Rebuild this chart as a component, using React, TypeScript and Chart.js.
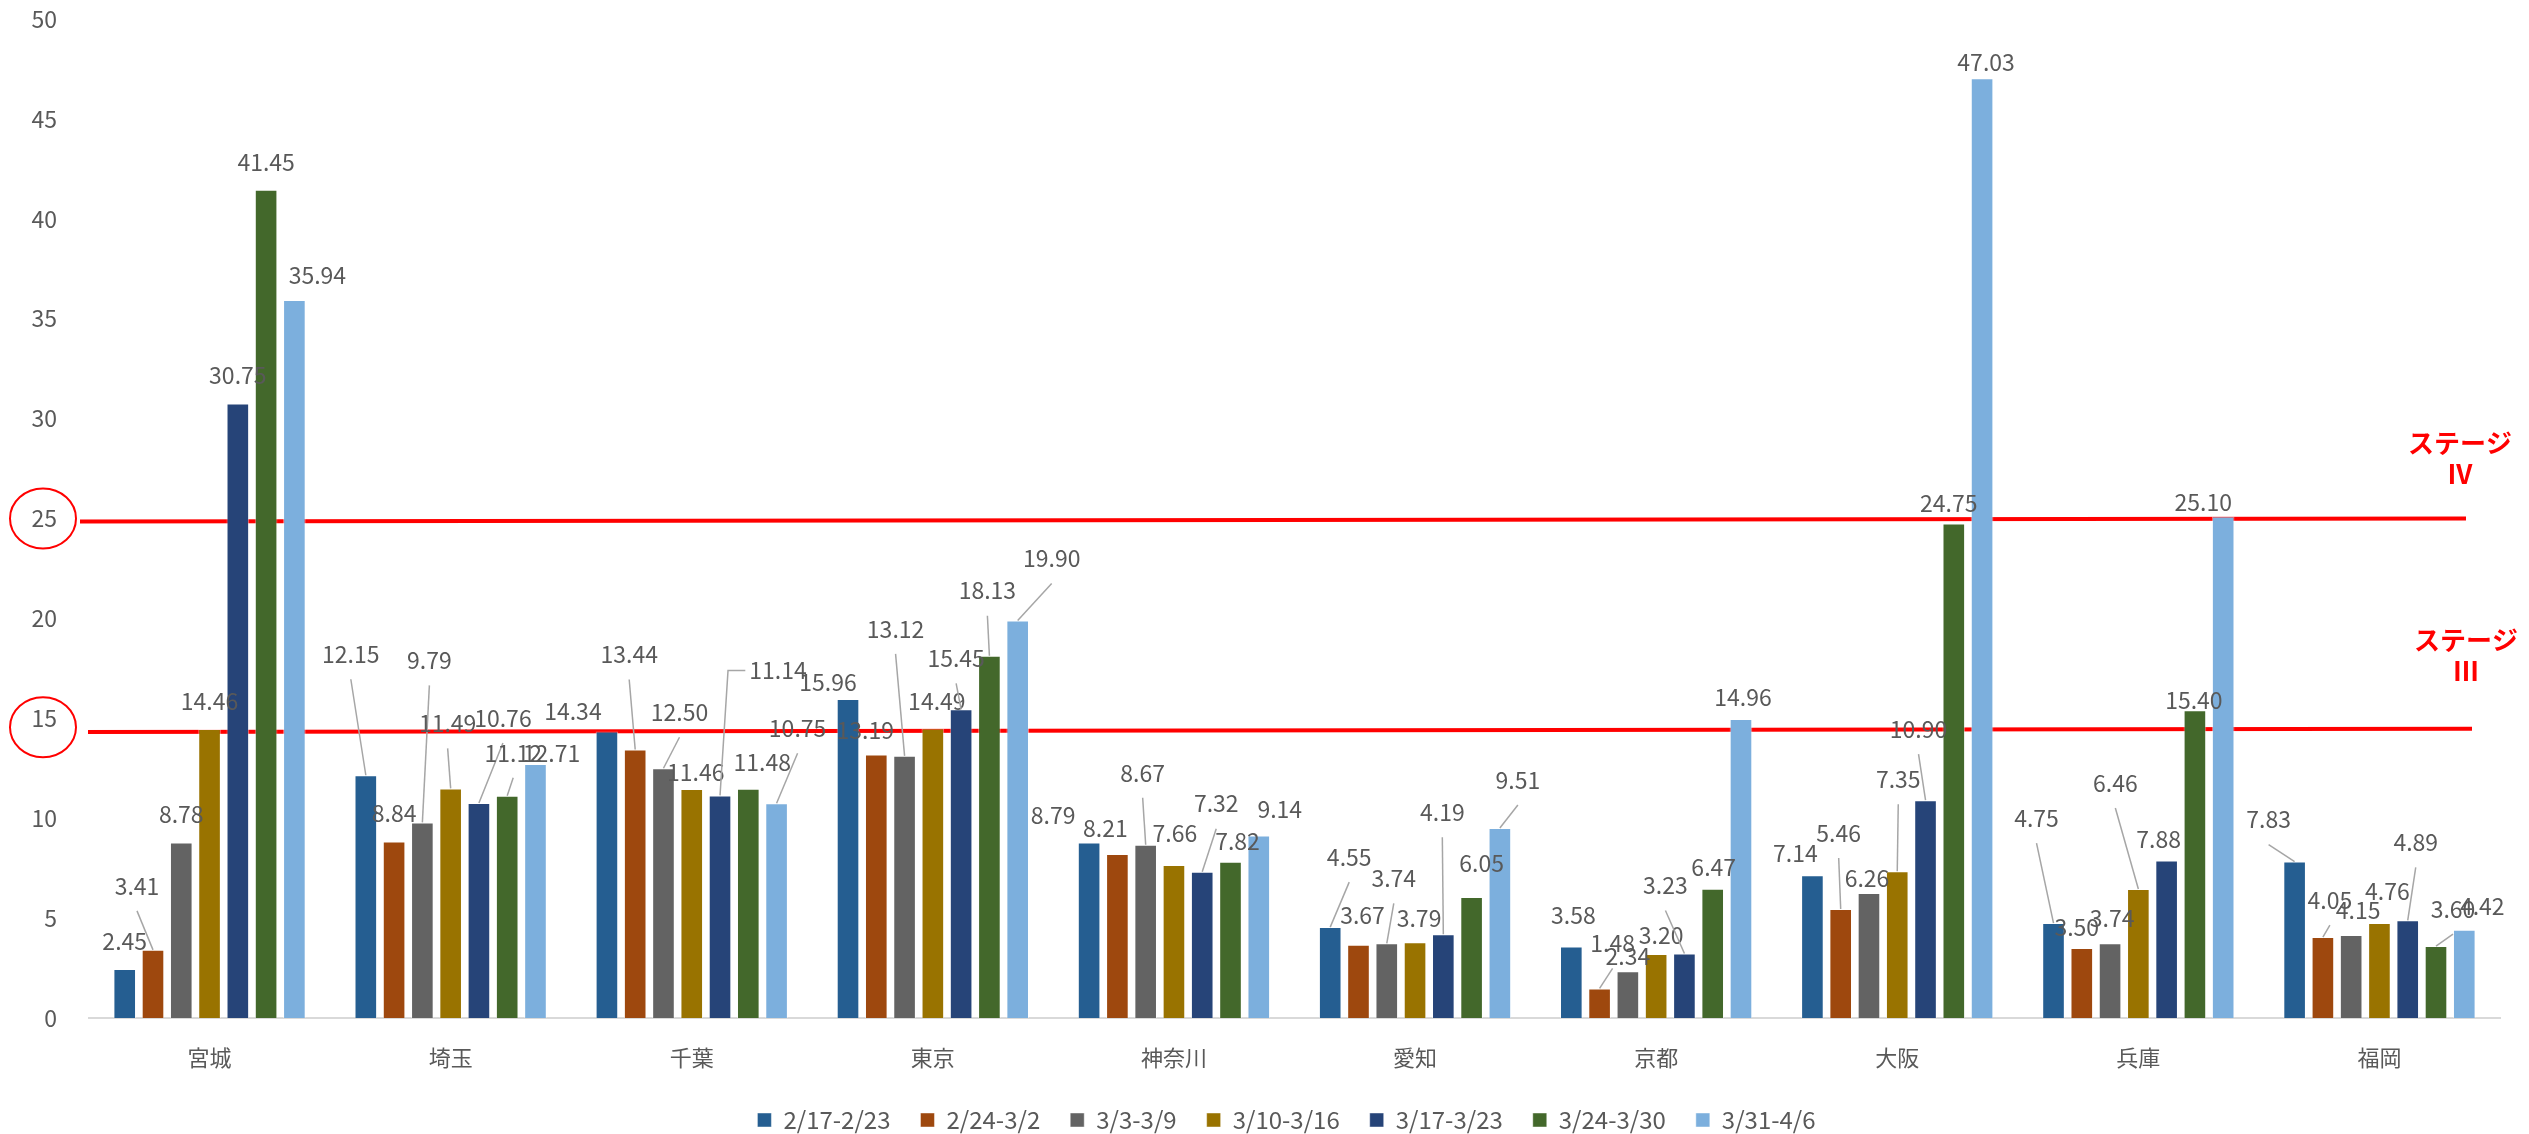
import React, { useEffect, useRef } from 'react';
import { Chart, registerables } from 'chart.js';

Chart.register(...registerables);

const FONT = '"Noto Sans CJK JP", "Noto Sans", sans-serif';

const CATEGORIES = ['宮城', '埼玉', '千葉', '東京', '神奈川', '愛知', '京都', '大阪', '兵庫', '福岡'];
const SERIES_LABELS = ['2/17-2/23', '2/24-3/2', '3/3-3/9', '3/10-3/16', '3/17-3/23', '3/24-3/30', '3/31-4/6'];
const SERIES_COLORS = ['#255E91', '#9E480E', '#636363', '#997300', '#264478', '#43682B', '#7CAFDD'];

const W_0217 = [2.45, 12.15, 14.34, 15.96, 8.79, 4.55, 3.58, 7.14, 4.75, 7.83];
const W_0224 = [3.41, 8.84, 13.44, 13.19, 8.21, 3.67, 1.48, 5.46, 3.5, 4.05];
const W_0303 = [8.78, 9.79, 12.5, 13.12, 8.67, 3.74, 2.34, 6.26, 3.74, 4.15];
const W_0310 = [14.46, 11.49, 11.46, 14.49, 7.66, 3.79, 3.2, 7.35, 6.46, 4.76];
const W_0317 = [30.75, 10.76, 11.14, 15.45, 7.32, 4.19, 3.23, 10.9, 7.88, 4.89];
const W_0324 = [41.45, 11.12, 11.48, 18.13, 7.82, 6.05, 6.47, 24.75, 15.4, 3.6];
const W_0331 = [35.94, 12.71, 10.75, 19.9, 9.14, 9.51, 14.96, 47.03, 25.1, 4.42];
const SERIES_VALUES = [W_0217, W_0224, W_0303, W_0310, W_0317, W_0324, W_0331];

const Y_MIN = 0;
const Y_MAX = 50;
const Y_STEP = 5;

// stage threshold lines (value at left end, value at right end)
const STAGE_IV_LINE = [24.85, 25.0];
const STAGE_III_LINE = [14.31, 14.48];
const STAGE_IV_TEXT = ['ステージ', 'Ⅳ'];
const STAGE_III_TEXT = ['ステージ', 'Ⅲ'];
const CIRCLED_TICKS = [25, 15];

// label placement nudges per category, per series: [dx px, dy px, leader line]
const LABEL_NUDGE: number[][][] = [
  [[0, 0, 0], [-16, -36, 1], [0, 0, 0], [0, 0, 0], [0, 0, 0], [0, 0, 0], [23, 3, 0]],
  [[-15, -93, 1], [0, 0, 0], [7, -134, 1], [-3, -37, 1], [24, -57, 1], [6, -15, 1], [16, 17, 0]],
  [[-34, 8, 0], [-6, -67, 1], [16, -28, 1], [4, 11, 0], [58, -97, 1], [14, 2, 0], [21, -47, 1]],
  [[-20, 11, 0], [-11, 4, 0], [-9, -99, 1], [4, 1, 0], [-5, -23, 1], [-2, -37, 1], [34, -34, 1]],
  [[-36, 1, 0], [-12, 2, 0], [-3, -44, 1], [1, -4, 0], [14, -40, 1], [7, 8, 0], [21, 2, 0]],
  [[19, -42, 1], [4, -1, 0], [7, -37, 1], [4, 4, 0], [-1, -94, 1], [10, -6, 0], [18, -20, 1]],
  [[2, -3, 0], [13, -17, 1], [0, 13, 0], [5, 9, 0], [-19, -40, 1], [1, 7, 0], [2, 6, 0]],
  [[-17, 6, 0], [-2, -48, 1], [-2, 13, 0], [1, -64, 1], [-7, -43, 1], [-5, 8, 0], [4, 12, 0]],
  [[-17, -77, 1], [-5, 7, 0], [2, 3, 0], [-23, -78, 1], [-8, 7, 0], [-1, 18, 0], [-20, 14, 0]],
  [[-26, -14, 1], [7, -9, 1], [7, 3, 0], [8, -4, 0], [8, -50, 1], [17, -9, 1], [18, 5, 0]],
];

const TEXT_COLOR = '#595959';
const RED = '#FF0000';

const stagePlugin = {
  id: 'stageLines',
  afterLayout(chart: any) {
    // center the legend row on the plot area, as the original does
    const lg = chart.legend;
    const ca = chart.chartArea;
    if (lg && ca) {
      const d = (ca.left + ca.right) / 2 - (lg.left + lg.right) / 2 - 8;
      lg.left += d;
      lg.right += d;
    }
  },
  beforeDatasetsDraw(chart: any) {
    const { ctx, chartArea } = chart;
    const y = chart.scales.y;
    ctx.save();
    ctx.strokeStyle = RED;
    ctx.lineWidth = 4;
    const lines = [
      { v: STAGE_IV_LINE, x0: chartArea.left - 9, x1: chartArea.right - 34 },
      { v: STAGE_III_LINE, x0: chartArea.left - 1, x1: chartArea.right - 28 },
    ];
    lines.forEach((l) => {
      ctx.beginPath();
      ctx.moveTo(l.x0, y.getPixelForValue(l.v[0]));
      ctx.lineTo(l.x1, y.getPixelForValue(l.v[1]));
      ctx.stroke();
    });
    ctx.restore();
  },
  afterDatasetsDraw(chart: any) {
    const { ctx, chartArea } = chart;
    const y = chart.scales.y;
    ctx.save();
    // data labels
    ctx.font = `23px ${FONT}`;
    ctx.textAlign = 'center';
    ctx.textBaseline = 'middle';
    chart.data.datasets.forEach((ds: any, si: number) => {
      const meta = chart.getDatasetMeta(si);
      meta.data.forEach((bar: any, gi: number) => {
        const v = ds.data[gi];
        const [dx, dy, lead] = LABEL_NUDGE[gi][si];
        const bx = bar.x;
        const by = bar.y;
        const lx = bx + dx;
        const ly = by - 28 + dy;
        const text = v.toFixed(2);
        if (lead) {
          ctx.strokeStyle = '#A6A6A6';
          ctx.lineWidth = 1.5;
          ctx.beginPath();
          if (Math.abs(dx) > 40) {
            const sign = dx > 0 ? 1 : -1;
            const tw = ctx.measureText(text).width;
            ctx.moveTo(lx - sign * (tw / 2 + 4), ly);
            ctx.lineTo(bx + sign * 8, ly);
            ctx.lineTo(bx, by);
          } else {
            ctx.moveTo(lx, ly + 25);
            ctx.lineTo(bx, by);
          }
          ctx.stroke();
        }
        ctx.fillStyle = TEXT_COLOR;
        ctx.fillText(text, lx, ly);
      });
    });

    // circles around ticks
    ctx.strokeStyle = RED;
    ctx.lineWidth = 2;
    CIRCLED_TICKS.forEach((t, i) => {
      const cy = y.getPixelForValue(t) + (i === 0 ? 0 : 9);
      ctx.beginPath();
      ctx.ellipse(chartArea.left - 46, cy, 33, 30, 0, 0, Math.PI * 2);
      ctx.stroke();
    });

    // stage texts
    ctx.fillStyle = RED;
    ctx.font = `bold 26px ${FONT}`;
    ctx.textAlign = 'center';
    ctx.textBaseline = 'middle';
    const y4 = y.getPixelForValue(STAGE_IV_LINE[1]);
    ctx.fillText(STAGE_IV_TEXT[0], chartArea.right - 40, y4 - 75);
    ctx.fillText(STAGE_IV_TEXT[1], chartArea.right - 40, y4 - 44);
    const y3 = y.getPixelForValue(STAGE_III_LINE[1]);
    ctx.fillText(STAGE_III_TEXT[0], chartArea.right - 34, y3 - 89);
    ctx.fillText(STAGE_III_TEXT[1], chartArea.right - 34, y3 - 58);
    ctx.restore();
  },
};

export default function App() {
  const ref = useRef<HTMLCanvasElement>(null);

  useEffect(() => {
    if (!ref.current) return;
    const chart = new Chart(ref.current, {
      type: 'bar',
      data: {
        labels: CATEGORIES,
        datasets: SERIES_LABELS.map((label, i) => ({
          label,
          data: SERIES_VALUES[i],
          backgroundColor: SERIES_COLORS[i],
          borderColor: 'rgba(255,255,255,0.45)',
          borderWidth: 1,
          categoryPercentage: 0.821,
          barPercentage: 0.8,
        })),
      },
      options: {
        responsive: false,
        animation: false,
        devicePixelRatio: 1,
        layout: { padding: { top: 19, right: 29, left: 0, bottom: 0 } },
        plugins: {
          legend: {
            position: 'bottom',
            labels: {
              font: { family: FONT, size: 24 },
              color: TEXT_COLOR,
              boxWidth: 14,
              boxHeight: 14,
              padding: 30,
            },
          },
          tooltip: { enabled: false },
        },
        scales: {
          x: {
            grid: { display: false, drawTicks: false },
            border: { display: true, color: '#D9D9D9', width: 2 },
            ticks: { font: { family: FONT, size: 22 }, color: TEXT_COLOR, padding: 26 },
            afterFit: (s: any) => {
              s.height = 60;
            },
          },
          y: {
            min: Y_MIN,
            max: Y_MAX,
            grid: { display: false, drawTicks: false },
            border: { display: false },
            ticks: { stepSize: Y_STEP, font: { family: FONT, size: 23 }, color: TEXT_COLOR, padding: 32 },
            afterFit: (s: any) => {
              s.width = 89;
              s.paddingTop = 0;
              s.paddingBottom = 0;
            },
          },
        },
      },
      plugins: [stagePlugin],
    });
    return () => chart.destroy();
  }, []);

  return (
    <div style={{ position: 'absolute', left: 0, top: 0, width: 2529, height: 1134, overflow: 'hidden', background: '#fff' }}>
      <canvas ref={ref} width={2529} height={1142} style={{ display: 'block' }} />
    </div>
  );
}
